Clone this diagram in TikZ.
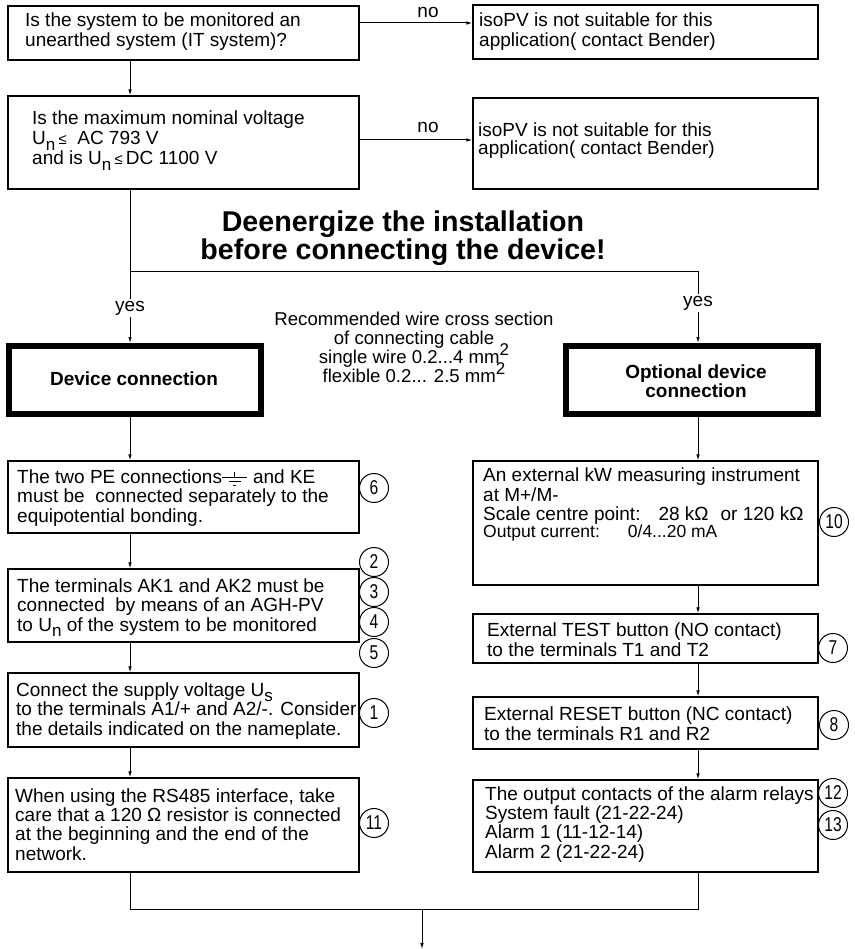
\documentclass[tikz,border=0pt]{standalone}
\usepackage{fontspec}
\setmainfont{Liberation Sans}
\usepackage{graphicx}
\usetikzlibrary{arrows.meta}

\newcommand{\Usub}[1]{U\raisebox{-0.28em}[0pt][0pt]{\fontsize{17}{17}\selectfont #1}}
\newcommand{\sqmm}{mm\raisebox{0.42em}[0pt][0pt]{\fontsize{17}{17}\selectfont 2}}
\newcommand{\nrtext}[1]{\scalebox{0.78}[1]{#1}}

\tikzset{
  box/.style={draw, rectangle, line width=1.3pt, inner sep=0pt},
  thickbox/.style={draw, rectangle, line width=6pt, inner sep=0pt},
  txt/.style={anchor=base west, inner sep=0pt, align=left},
  nr/.style={draw, circle, line width=1pt, minimum size=29pt, inner sep=0pt, font=\fontsize{20}{20}\selectfont},
  arr/.style={-{Latex[length=6pt,width=3.6pt]}, line width=1pt},
  lbl/.style={fill=white, inner sep=2pt, anchor=base},
}

\begin{document}
\begin{tikzpicture}[x=1pt,y=1pt,yscale=-1,xscale=1,
  every node/.style={font=\fontsize{19}{19.2}\selectfont}]
\useasboundingbox (0,0) rectangle (854,949);

% trunk positions
\coordinate (lx) at (130,0);
\coordinate (rx) at (698,0);

%Shape: Rectangle [questions]
\node [box, minimum width=351pt, minimum height=54pt] (q1) at (183.5,33) {};
\node [box, minimum width=351pt, minimum height=93pt] (q2) at (183.5,142.5) {};
%Shape: Rectangle [not suitable]
\node [box, minimum width=345pt, minimum height=54pt] (ns1) at (645.5,32) {};
\node [box, minimum width=345pt, minimum height=91pt] (ns2) at (645.5,143.5) {};
%Shape: Rectangle [thick headers]
\node [thickbox, minimum width=252pt, minimum height=68pt] (dev) at (135,380) {};
\node [thickbox, minimum width=252pt, minimum height=68pt] (opt) at (692,380) {};
%Shape: Rectangle [left column]
\node [box, minimum width=351pt, minimum height=72pt] (pe) at (183.5,497) {};
\node [box, minimum width=351pt, minimum height=73pt] (ak) at (183.5,605.5) {};
\node [box, minimum width=351pt, minimum height=74pt] (sup) at (183.5,710) {};
\node [box, minimum width=351pt, minimum height=94pt] (rs) at (183.5,825) {};
%Shape: Rectangle [right column]
\node [box, minimum width=345pt, minimum height=124pt] (kw) at (645.5,523) {};
\node [box, minimum width=345pt, minimum height=49pt] (test) at (645.5,638.5) {};
\node [box, minimum width=345pt, minimum height=52pt] (reset) at (645.5,723) {};
\node [box, minimum width=345pt, minimum height=92pt] (out) at (645.5,826) {};

%Straight Lines [no branches]
\coordinate (no1) at (0,23);
\coordinate (no2) at (0,140);
\draw [arr] (q1.east |- no1) -- (ns1.west |- no1);
\draw [arr] (q2.east |- no2) -- (ns2.west |- no2);
%Straight Lines [left trunk]
\draw [arr] (q1.south -| lx) -- (q2.north -| lx);
\draw [arr] (q2.south -| lx) -- (dev.north -| lx);
\draw [arr] (dev.south -| lx) -- (pe.north -| lx);
\draw [arr] (pe.south -| lx) -- (ak.north -| lx);
\draw [arr] (ak.south -| lx) -- (sup.north -| lx);
\draw [arr] (sup.south -| lx) -- (rs.north -| lx);
%Straight Lines [right trunk]
\coordinate (br) at (130,272);
\draw [arr] (br) -| (opt.north -| rx);
\draw [arr] (opt.south -| rx) -- (kw.north -| rx);
\draw [arr] (kw.south -| rx) -- (test.north -| rx);
\draw [arr] (test.south -| rx) -- (reset.north -| rx);
\draw [arr] (reset.south -| rx) -- (out.north -| rx);
%Straight Lines [join]
\coordinate (mj) at (422,909);
\coordinate (fin) at (422,949);
\draw [line width=1pt] (rs.south -| lx) -- (lx |- mj) -- (rx |- mj) -- (out.south -| rx);
\draw [arr] (mj) -- (fin);

% Text Node
\node [lbl] (no1t) at (428,18) {no};
\node [lbl] (no2t) at (428,133) {no};
\node [lbl] (yesl) at (130,311) {yes};
\node [lbl] (yesr) at (698,306) {yes};

% Text Node (placed at the baseline of the last line)
\node [txt, font=\fontsize{19}{20}\selectfont] (q1t) at (25,47) {Is the system to be monitored an\\unearthed system (IT system)?};
\node [txt, font=\fontsize{19}{20}\selectfont] (q2t) at (32,165) {Is the maximum nominal voltage\\\Usub{n}\,{\fontsize{15}{15}\selectfont ≤}\ \ AC 793 V\\and is \Usub{n}\,{\fontsize{15}{15}\selectfont ≤}\,DC 1100 V};
\node [txt, font=\fontsize{19}{20}\selectfont] (ns1t) at (479,47) {isoPV is not suitable for this\\application( contact Bender)};
\node [txt, font=\fontsize{19}{18.5}\selectfont] (ns2t) at (478,155) {isoPV is not suitable for this\\application( contact Bender)};

% Text Node
\node [anchor=base, inner sep=0pt, align=center, font=\fontsize{28.6}{28}\selectfont\bfseries] (warn) at (403,260) {Deenergize the installation\\before connecting the device!};
\node [anchor=base, inner sep=0pt, align=center, font=\fontsize{18.6}{18.7}\selectfont] (wire) at (414,382) {Recommended wire cross section\\of connecting cable\\single wire 0.2...4 \sqmm\\flexible 0.2... 2.5 \sqmm};
\node [anchor=base, inner sep=0pt, font=\fontsize{19}{19}\selectfont\bfseries] (devt) at (134,385) {Device connection};
\node [anchor=base, inner sep=0pt, align=center, font=\fontsize{19}{17.5}\selectfont\bfseries] (optt) at (696,397) {Optional device\\connection};

% Text Node
\node [txt] (pet) at (17,522) {The two PE connections\hspace{31pt}and KE\\must be\ \ connected separately to the\\equipotential bonding.};
\node [txt] (akt) at (17,631) {The terminals AK1 and AK2 must be\\connected\ \ by means of an AGH-PV\\to \Usub{n} of the system to be monitored};
\node [txt] (supt) at (16,735) {Connect the supply voltage \Usub{s}\\to the terminals A1/+ and A2/-. Consider\\the details indicated on the nameplate.};
\node [txt] (rst) at (15,860) {When using the RS485 interface, take\\care that a 120 Ω resistor is connected\\at the beginning and the end of the\\network.};

% Text Node
\node [txt] (kwt) at (483,537) {An external kW measuring instrument\\at M+/M-\\Scale centre point:\hspace{18pt}28 kΩ\hspace{12pt}or 120 kΩ\\[-2.5pt]{\fontsize{17.5}{17}\selectfont Output current:\hspace{28pt}0/4...20 mA}};
\node [txt] (testt) at (487,656) {External TEST button (NO contact)\\to the terminals T1 and T2};
\node [txt] (resett) at (484,740) {External RESET button (NC contact)\\to the terminals R1 and R2};
\node [txt] (outt) at (485,858) {The output contacts of the alarm relays\\System fault (21-22-24)\\Alarm 1 (11-12-14)\\Alarm 2 (21-22-24)};

%Shape: earth symbol
\draw [line width=0.9pt] (234.5,472) -- (234.5,477);
\draw [line width=0.9pt] (222,477) -- (247,477);
\draw [line width=0.9pt] (229,481) -- (241,481);
\draw [line width=0.9pt] (233,485) -- (236,485);

%Shape: Circle [item numbers]
\node [nr] (n6) at (374,488) {\nrtext{6}};
\node [nr] (n2) at (374,562) {\nrtext{2}};
\node [nr] (n3) at (374,592) {\nrtext{3}};
\node [nr] (n4) at (374,622) {\nrtext{4}};
\node [nr] (n5) at (374,653) {\nrtext{5}};
\node [nr] (n1) at (374,713) {\nrtext{1}};
\node [nr] (n11) at (374,823) {\nrtext{11}};
\node [nr] (n10) at (834,522) {\nrtext{10}};
\node [nr] (n7) at (833,648) {\nrtext{7}};
\node [nr] (n8) at (834,725) {\nrtext{8}};
\node [nr] (n12) at (833,793) {\nrtext{12}};
\node [nr] (n13) at (833,825) {\nrtext{13}};
\end{tikzpicture}
\end{document}
